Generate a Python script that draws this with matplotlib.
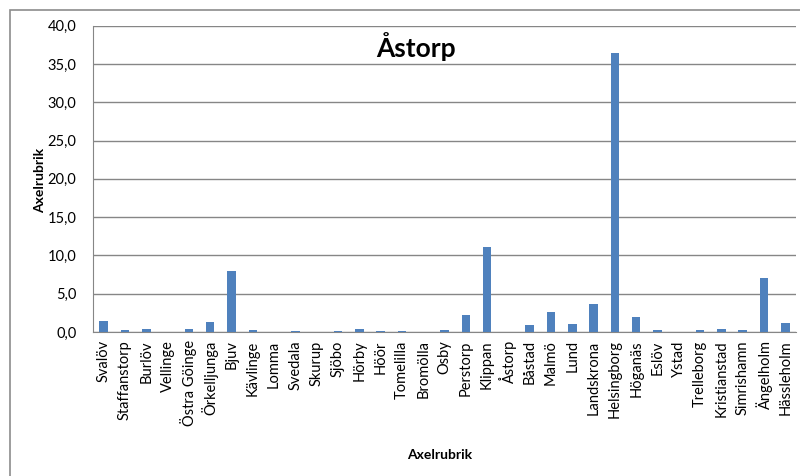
import matplotlib
matplotlib.use("Agg")
import matplotlib.pyplot as plt
from matplotlib.ticker import FuncFormatter
from matplotlib.patches import Rectangle

plt.rcParams['font.family'] = ['Lato', 'DejaVu Sans']

# data
kommuner = ["Svalöv", "Staffanstorp", "Burlöv", "Vellinge", "Östra Göinge", "Örkelljunga",
            "Bjuv", "Kävlinge", "Lomma", "Svedala", "Skurup", "Sjöbo", "Hörby", "Höör",
            "Tomelilla", "Bromölla", "Osby", "Perstorp", "Klippan", "Åstorp", "Båstad",
            "Malmö", "Lund", "Landskrona", "Helsingborg", "Höganäs", "Eslöv", "Ystad",
            "Trelleborg", "Kristianstad", "Simrishamn", "Ängelholm", "Hässleholm"]
varden = [1.4, 0.25, 0.4, 0.05, 0.4, 1.3,
          8.0, 0.25, 0.02, 0.1, 0.05, 0.1, 0.4, 0.1,
          0.15, 0.05, 0.3, 2.2, 11.1, 0.0, 0.9,
          2.65, 1.05, 3.7, 36.5, 1.9, 0.3, 0.0,
          0.2, 0.4, 0.3, 7.0, 1.2]
yticks = [0, 5, 10, 15, 20, 25, 30, 35, 40]

fig = plt.figure(figsize=(8, 4.76), dpi=100)
ax = fig.add_axes([93/800, 1 - 332/476, (796 - 93)/800, (332 - 25.7)/476])

# outer chart frame
fig.patches.append(Rectangle((9.5/800, -0.05), 1.0, 1 - 9.5/476 + 0.05,
                             transform=fig.transFigure, fill=False,
                             edgecolor='#8c8c8c', linewidth=1.2, zorder=0))

x = range(len(kommuner))
ax.bar(x, varden, width=0.4, color='#4F81BD', zorder=3)

ax.set_xlim(-0.5, len(kommuner) - 0.5)
ax.set_ylim(0, 40)
ax.set_yticks(yticks)
ax.yaxis.set_major_formatter(FuncFormatter(lambda v, p: f"{v:.1f}".replace('.', ',')))
ax.set_xticks(list(x))
ax.set_xticklabels(kommuner, rotation=90, fontsize=10.5)
ax.tick_params(axis='y', labelsize=10.5, length=0, pad=12)
ax.tick_params(axis='x', length=0, pad=6)

ax.grid(axis='y', color='#868686', linewidth=1, zorder=0)
for s in ['top', 'right']:
    ax.spines[s].set_visible(False)
ax.spines['left'].set_color('#868686')
ax.spines['bottom'].set_color('#868686')

fig.text(416/800, 1 - 47/476, "Åstorp", ha='center', va='center',
         fontsize=19, fontweight='bold')
fig.text(440/800, 1 - 455/476, "Axelrubrik", ha='center', va='center',
         fontsize=10, fontweight='bold')
fig.text(40/800, 1 - 180/476, "Axelrubrik", ha='center', va='center',
         fontsize=10, fontweight='bold', rotation=90)

fig.savefig("out.png", dpi=100)
